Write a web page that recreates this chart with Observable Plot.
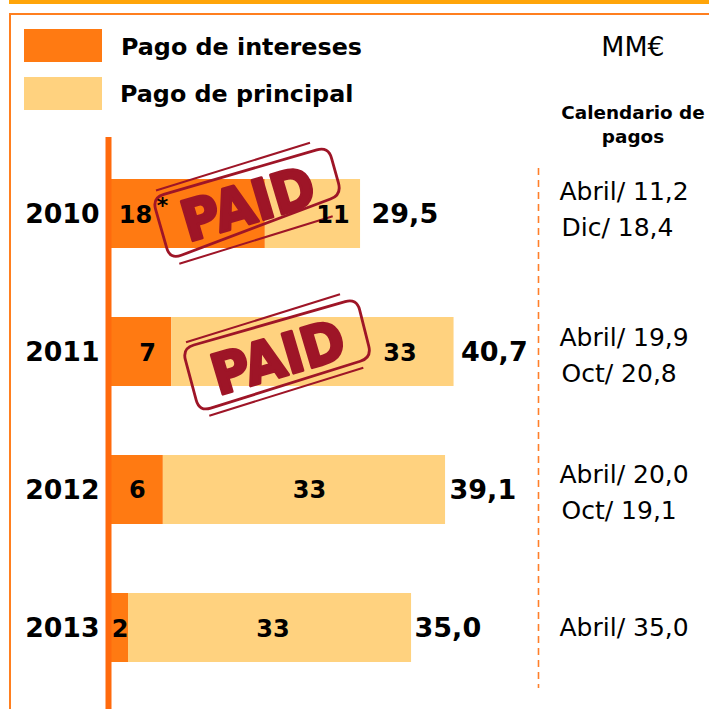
<!DOCTYPE html>
<html lang="es">
<head>
<meta charset="utf-8">
<script src="https://cdn.jsdelivr.net/npm/d3@7"></script>
<script src="https://cdn.jsdelivr.net/npm/@observablehq/plot@0.6"></script>
<style>
  html,body{margin:0;padding:0;background:#fff;}
  #page{position:relative;width:709px;height:709px;overflow:hidden;font-family:"DejaVu Sans",sans-serif;color:#000;}
  #topbar{position:absolute;left:9px;right:0;top:0;height:4px;background:#FFA509;}
  #frame{position:absolute;left:9px;top:13px;right:-4px;bottom:-4px;border:2px solid #FF7F1F;box-sizing:border-box;}
  .sw{position:absolute;left:24px;width:78px;height:33px;}
  .lg{position:absolute;font-weight:bold;font-size:23.8px;line-height:26px;white-space:nowrap;}
  #unit{position:absolute;left:558px;width:150px;top:33px;text-align:center;font-size:26.8px;line-height:28px;}
  #cal{position:absolute;left:553px;width:160px;top:101px;text-align:center;font-weight:bold;font-size:18.4px;line-height:24px;}
  #chart{position:absolute;left:0;top:137px;}
</style>
</head>
<body>
<div id="page">
  <div id="topbar"></div>
  <div id="frame"></div>
  <div class="sw" style="top:29px;background:#FF7A12"></div>
  <div class="lg" style="left:121px;top:34px">Pago de intereses</div>
  <div class="sw" style="top:77px;background:#FFD27F"></div>
  <div class="lg" style="left:120px;top:81px">Pago de principal</div>
  <div id="unit">MM€</div>
  <div id="cal">Calendario de<br>pagos</div>
  <div id="chart"></div>
</div>
<script>
// Data
const years = ["2010", "2011", "2012", "2013"];
const interest = [18.1, 7.1, 6.1, 2.0];
const principal = [11.2, 33.2, 33.2, 33.3];
const interestLabels = ["18", "7", "6", "2"];
const principalLabels = ["11", "33", "33", "33"];
const totals = ["29,5", "40,7", "39,1", "35,0"];
const paymentsFirst = ["Abril/ 11,2", "Abril/ 19,9", "Abril/ 20,0", "Abril/ 35,0"];
const paymentsSecond = ["Dic/ 18,4", "Oct/ 20,8", "Oct/ 19,1", ""];
const paidYears = ["2010", "2011"];

// Layout (pixels), separate from the data
const pxPerUnit = 8.5;
const left = 111, W = 709, H = 572;
const interestShift = [-53, 6, 0, 0];
const principalShift = [20, 87, 5, 3];
const totalGap = [11, 7, 4, 3];
const labelDy = [1, 1, 0, 1];
const firstDy = [-22, -14, -15, 0];
const secondDy = [14, 22, 21, 0];
const paymentX = 559;
// Hand-drawn stamp outlines: anchor plus corner offsets around it
const stampAt = {
  "2010": {px: 248, dy: -10,
    box: [[-95.7, -5.7], [80.3, -57], [93.7, -8.7], [-78, 56]],
    top: [[-92, -13], [62, -60.7]], bottom: [[-68.7, 60.3], [84.7, 12.7]]},
  "2011": {px: 278, dy: 5.5,
    box: [[-95.7, -8.7], [78.7, -58.7], [93.7, 0.7], [-78.7, 54.7]],
    top: [[-92, -14.7], [62, -62.7]], bottom: [[-68.7, 58.7], [85.3, 10.7]]}
};

const bars = years.flatMap((year, i) => [
  {year, kind: "Pago de intereses", value: interest[i]},
  {year, kind: "Pago de principal", value: principal[i]}
]);
const rows = years.map((year, i) => ({year, i}));
const toUnits = px => (px - left) / pxPerUnit;

function roundedPath(corners, r) {
  const n = corners.length;
  let path = "";
  corners.forEach((c, i) => {
    const prev = corners[(i + n - 1) % n], next = corners[(i + 1) % n];
    const toward = (a, b) => {
      const d = Math.hypot(b[0] - a[0], b[1] - a[1]);
      return [a[0] + (b[0] - a[0]) * r / d, a[1] + (b[1] - a[1]) * r / d];
    };
    const p1 = toward(c, prev), p2 = toward(c, next);
    path += `${i ? "L" : "M"}${p1[0]},${p1[1]}Q${c[0]},${c[1]} ${p2[0]},${p2[1]}`;
  });
  return path + "Z";
}

function stampMark(year) {
  return (index, {x, y}) => {
    const s = stampAt[year];
    const bw = typeof y.bandwidth === "function" ? y.bandwidth() : y.bandwidth;
    const cx = x(toUnits(s.px));
    const cy = y(year) + bw / 2 + s.dy;
    const red = "#9E1527";
    const g = d3.create("svg:g")
      .attr("transform", `translate(${cx},${cy})`)
      .attr("fill", "none").attr("stroke", red);
    g.append("path").attr("d", roundedPath(s.box, 12)).attr("stroke-width", 2.8);
    for (const seg of [s.top, s.bottom]) {
      g.append("line")
        .attr("x1", seg[0][0]).attr("y1", seg[0][1])
        .attr("x2", seg[1][0]).attr("y2", seg[1][1])
        .attr("stroke-width", 2);
    }
    g.append("text").text("PAID")
      .attr("transform", "rotate(-16.5) scale(0.93,1)")
      .attr("text-anchor", "middle").attr("y", 20)
      .attr("font-family", "DejaVu Sans").attr("font-weight", "bold").attr("font-size", 56)
      .attr("fill", red).attr("stroke-width", 3).attr("stroke-linejoin", "round");
    return g.node();
  };
}

const plot = Plot.plot({
  width: W, height: H,
  marginLeft: left, marginRight: 0, marginTop: 0, marginBottom: 0,
  style: {fontFamily: "DejaVu Sans", background: "transparent", color: "#000"},
  x: {domain: [0, (W - left) / pxPerUnit], range: [left, W], axis: null},
  y: {domain: years, range: [-28.2, 594.6], padding: 0.5, label: null},
  color: {domain: ["Pago de intereses", "Pago de principal"], range: ["#FF7A12", "#FFD27F"]},
  marks: [
    Plot.barX(bars, {x: "value", y: "year", fill: "kind"}),
    ...paidYears.map(stampMark),
    Plot.ruleX([0], {dx: -3, stroke: "#FF6A0D", strokeWidth: 6}),
    Plot.ruleX([toUnits(538)], {stroke: "#FF7F2A", strokeWidth: 1.6, strokeDasharray: "7,5", insetTop: 31, insetBottom: 21}),
    Plot.axisY({tickSize: 0, tickPadding: 12, fontSize: 26.7, fontWeight: "bold", label: null, color: "#000"}),
    ...rows.map(d => Plot.text([d], {
      x: () => interest[d.i] / 2 + interestShift[d.i] / pxPerUnit,
      y: "year", text: () => interestLabels[d.i], dy: labelDy[d.i],
      fontSize: 24, fontWeight: "bold", fill: "#000"
    })),
    Plot.text(["*"], {x: [toUnits(162)], y: ["2010"], dy: -8, fontSize: 22, fontWeight: "bold", fill: "#000", text: d => d}),
    ...rows.map(d => Plot.text([d], {
      x: () => interest[d.i] + principal[d.i] / 2 + principalShift[d.i] / pxPerUnit,
      y: "year", text: () => principalLabels[d.i], dy: labelDy[d.i],
      fontSize: 24, fontWeight: "bold", fill: "#000"
    })),
    Plot.text(rows, {
      x: d => interest[d.i] + principal[d.i] + totalGap[d.i] / pxPerUnit,
      y: "year", text: d => totals[d.i], textAnchor: "start",
      fontSize: 27, fontWeight: "bold", fill: "#000"
    }),
    ...rows.map(d => Plot.text([d], {
      x: () => toUnits(paymentX), y: "year", text: () => paymentsFirst[d.i],
      dy: firstDy[d.i], textAnchor: "start", fontSize: 25, fill: "#000"
    })),
    ...rows.filter(d => paymentsSecond[d.i]).map(d => Plot.text([d], {
      x: () => toUnits(paymentX + 2), y: "year", text: () => paymentsSecond[d.i],
      dy: secondDy[d.i], textAnchor: "start", fontSize: 25, fill: "#000"
    }))
  ]
});
document.getElementById("chart").append(plot);
</script>
</body>
</html>
